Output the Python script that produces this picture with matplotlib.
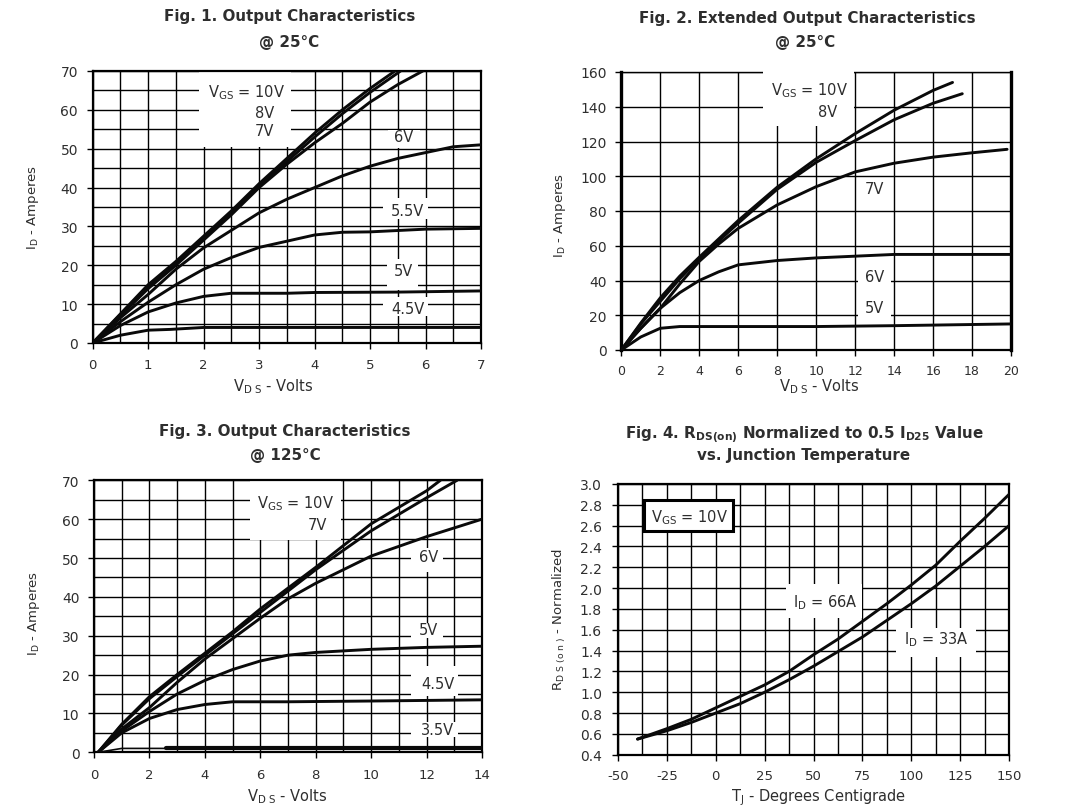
import matplotlib
matplotlib.use("Agg")
import matplotlib.pyplot as plt
from matplotlib.patches import Rectangle
import numpy as np

plt.rcParams['font.family'] = ['DejaVu Sans']
plt.rcParams['mathtext.fontset'] = 'dejavusans'
plt.rcParams['mathtext.default'] = 'rm'
plt.rcParams['axes.unicode_minus'] = False

# ---- Fig. 1 ----
f1_x10 = [0, .5, 1, 1.5, 2, 2.5, 3, 3.5, 4, 4.5, 5, 5.45]
f1_10v = [0, 7.5, 15, 21, 27.5, 34, 41, 47.5, 54, 60, 65.5, 70]
f1_x8 = [0, .5, 1, 1.5, 2, 2.5, 3, 3.5, 4, 4.5, 5, 5.55]
f1_8v = [0, 7.3, 14.5, 20.7, 27, 33.5, 40.3, 46.7, 53, 59, 64.5, 70]
f1_x7 = [0, .5, 1, 1.5, 2, 2.5, 3, 3.5, 4, 4.5, 5, 5.5, 5.95]
f1_7v = [0, 7, 14, 20, 26.5, 33, 40, 46, 51.5, 56.5, 62, 66.5, 70]
f1_x6 = [0, .5, 1, 1.5, 2, 2.5, 3, 3.5, 4, 4.5, 5, 5.5, 6, 6.5, 7]
f1_6v = [0, 6.5, 12.5, 19, 24.5, 29, 33.5, 37, 40, 43, 45.5, 47.5, 49, 50.5, 51]
f1_x55 = [0, .5, 1, 1.5, 2, 2.5, 3, 3.5, 4, 4.5, 5, 6, 7]
f1_55v = [0, 5.5, 10.5, 15, 19, 22, 24.6, 26.2, 27.8, 28.5, 28.6, 29.3, 29.5]
f1_x5 = [0, .5, 1, 1.5, 2, 2.5, 3.5, 4, 5.5, 7]
f1_5v = [0, 4.5, 8, 10.3, 12, 12.8, 12.8, 13, 13.1, 13.4]
f1_x45 = [0, .5, 1, 1.4, 2, 7]
f1_45v = [0, 2, 3.3, 3.5, 4, 4]

# ---- Fig. 2 ----
f2_x10 = [0, 1, 2, 3, 4, 6, 8, 10, 12, 14, 16, 17]
f2_10v = [0, 15.5, 30, 42.5, 53.4, 74.5, 93.7, 110, 124.5, 138, 149.4, 154]
f2_x8 = [0, 1, 2, 3, 4, 6, 8, 10, 12, 14, 16, 17.5]
f2_8v = [0, 15, 28, 41, 52.5, 73, 92.5, 108, 120.5, 132.5, 142, 147.5]
f2_x7 = [0, 1, 2, 3, 4, 5, 6, 8, 10, 12, 14, 16, 18, 19.8]
f2_7v = [0, 12.5, 24, 38, 51, 61, 70, 83.5, 94, 102.5, 107.5, 111, 113.5, 115.5]
f2_x6 = [0, 1, 2, 3, 4, 5, 6, 8, 10, 12, 14, 20]
f2_6v = [0, 12.5, 24, 33, 40, 45, 49, 51.5, 53, 54, 55, 55]
f2_x5 = [0, 1, 2, 3, 4, 10, 14, 20]
f2_5v = [0, 7.5, 12.5, 13.5, 13.5, 13.5, 14, 15]

# ---- Fig. 3 ----
f3_x10 = [.15, 1, 2, 3, 4, 5, 6, 8, 10, 12, 12.5]
f3_10v = [0, 7.2, 14.3, 20, 25.5, 31, 36.9, 47.6, 58.8, 67.3, 70]
f3_x7 = [.15, 1, 2, 3, 4, 5, 6, 8, 10, 12, 13.1]
f3_7v = [0, 7, 13.8, 19.5, 25, 30.5, 36, 47, 57, 65.5, 70]
f3_x6 = [.15, 1, 2, 3, 4, 6, 7, 8, 10, 12, 14]
f3_6v = [0, 6, 11.5, 18, 24, 34.5, 39.5, 43.5, 50.5, 55.5, 60]
f3_x5 = [.15, 1, 2, 3, 4, 5, 6, 7, 8, 10, 12, 14]
f3_5v = [0, 5.5, 10.5, 15, 18.5, 21.3, 23.5, 25, 25.7, 26.5, 27, 27.3]
f3_x45 = [.15, 1, 2, 3, 4, 5, 7, 10, 14]
f3_45v = [0, 5, 8.7, 11, 12.3, 13, 13, 13.2, 13.5]
f3_x35 = [.15, 1, 2.6, 14]
f3_35v = [0, 1, 1, 1]

# ---- Fig. 4 ----
f4_t = [-40, -25, -12.5, 0, 12.5, 25, 37.5, 50, 62.5, 75, 87.5, 100, 112.5, 125, 137.5, 150]
f4_66a = [.55, .65, .74, .85, .96, 1.07, 1.2, 1.36, 1.51, 1.68, 1.85, 2.03, 2.22, 2.45, 2.67, 2.9]
f4_33a = [.55, .63, .71, .80, .89, 1.0, 1.12, 1.25, 1.39, 1.53, 1.69, 1.85, 2.02, 2.21, 2.4, 2.6]

W, H = 1073, 812
INK = '#2e2e2e'
fig = plt.figure(figsize=(W / 100, H / 100), dpi=100, facecolor='white')


def panel(box, xlim, ylim, xgrid, ygrid, xticks, yticks, ylabels=None, xsize=9.5, ysize=10, xpad=6, ypad=6):
    l, t, r, b = box
    ax = fig.add_axes([l / W, 1 - b / H, (r - l) / W, (b - t) / H])
    ax.set_xlim(*xlim)
    ax.set_ylim(*ylim)
    ax.set_xticks(xgrid, minor=True)
    ax.set_yticks(ygrid, minor=True)
    ax.set_xticks(xticks)
    ax.set_yticks(yticks)
    if ylabels:
        ax.set_yticklabels(ylabels)
    ax.grid(True, which='both', color='black', lw=1.0, zorder=1)
    ax.set_axisbelow(True)
    ax.tick_params(which='minor', length=0)
    ax.tick_params(which='major', length=4.5, width=1.0, color='black', labelcolor=INK)
    ax.tick_params(axis='x', labelsize=xsize, pad=xpad)
    ax.tick_params(axis='y', labelsize=ysize, pad=ypad)
    for s in ax.spines.values():
        s.set_linewidth(1.6)
        s.set_zorder(2.5)
    return ax


def blank(ax, x0, x1, y0, y1, z=1.5, clip=True):
    ax.add_patch(Rectangle((x0, y0), x1 - x0, y1 - y0, fc='white', ec='none', zorder=z, clip_on=clip))


def curve(ax, x, y, lw=2.1):
    ax.plot(x, y, color='#0a0a0a', lw=lw, zorder=3, solid_capstyle='round', solid_joinstyle='round')


def note(ax, x, y, s, size=10.5):
    ax.text(x, y, s, fontsize=size, color=INK, ha='center', va='center', zorder=4)


def ftext(px, py, s, size=9, weight='normal', rot=0):
    fig.text(px / W, 1 - py / H, s, fontsize=size, fontweight=weight, color=INK,
             ha='center', va='center', rotation=rot)


VGS = r'V$_{\mathrm{GS}}$ = 10V'

# Fig. 1
ax1 = panel((92.7, 72, 481, 344), (0, 7), (0, 70), np.arange(0, 7.01, .5), np.arange(0, 70.1, 5),
            np.arange(0, 8), np.arange(0, 71, 10))
blank(ax1, 1.92, 3.57, 50.4, 69.7)
blank(ax1, 5.33, 5.90, 50.3, 54.8)
blank(ax1, 5.24, 6.05, 31.9, 37.2)
blank(ax1, 5.30, 5.87, 13.7, 21.6)
blank(ax1, 5.24, 6.05, 7.0, 11.75)
for x, y in [(f1_x10, f1_10v), (f1_x8, f1_8v), (f1_x7, f1_7v), (f1_x6, f1_6v),
             (f1_x55, f1_55v), (f1_x5, f1_5v), (f1_x45, f1_45v)]:
    curve(ax1, x, y)
for x, y, s in [(2.78, 64.7, VGS), (3.1, 59.2, '8V'), (3.1, 54.6, '7V'), (5.6, 53.2, '6V'),
                (5.68, 34, '5.5V'), (5.6, 18.6, '5V'), (5.68, 8.9, '4.5V')]:
    note(ax1, x, y, s)

# Fig. 2
ax2 = panel((621.3, 73, 1011, 351), (0, 20), (0, 160), np.arange(0, 20.1, 2), np.arange(0, 161, 20),
            np.arange(0, 21, 2), np.arange(0, 161, 20), xsize=9, xpad=5.5)
ax2.spines['left'].set_linewidth(2.4)
ax2.spines['right'].set_linewidth(2.4)
ax2.spines['top'].set_linewidth(1.0)
blank(ax2, 7.25, 11.95, 128.9, 162, z=2.6, clip=False)
blank(ax2, 12.16, 13.82, 16.9, 46.7)
for x, y in [(f2_x10, f2_10v), (f2_x8, f2_8v), (f2_x7, f2_7v), (f2_x6, f2_6v), (f2_x5, f2_5v)]:
    curve(ax2, x, y)
for x, y, s in [(9.65, 150, VGS), (10.6, 137.5, '8V'), (13, 92.8, '7V'), (13, 42.3, '6V'), (13, 24.6, '5V')]:
    note(ax2, x, y, s)

# Fig. 3
ax3 = panel((94, 481.3, 482, 753.3), (0, 14), (0, 70), np.arange(0, 14.1, 1), np.arange(0, 70.1, 5),
            np.arange(0, 15, 2), np.arange(0, 71, 10), xpad=7)
blank(ax3, 5.62, 8.93, 54.7, 69.7)
blank(ax3, 11.45, 12.6, 46.5, 52.7)
blank(ax3, 11.45, 12.6, 29.4, 33.4)
blank(ax3, 11.45, 13.13, 14.4, 22.3)
blank(ax3, 11.45, 13.13, 3.9, 7.7)
for x, y in [(f3_x10, f3_10v), (f3_x7, f3_7v), (f3_x6, f3_6v), (f3_x5, f3_5v), (f3_x45, f3_45v)]:
    curve(ax3, x, y)
curve(ax3, f3_x35[:3], f3_35v[:3], lw=1.2)
curve(ax3, f3_x35[2:], f3_35v[2:], lw=3.0)
for x, y, s in [(7.28, 64.3, VGS), (8.06, 58.5, '7V'), (12.08, 50.3, '6V'), (12.08, 31.6, '5V'),
                (12.4, 17.8, '4.5V'), (12.4, 5.8, '3.5V')]:
    note(ax3, x, y, s)

# Fig. 4
ax4 = panel((618, 485, 1009, 755.7), (-50, 150), (.4, 3.0), np.arange(-50, 150.1, 12.5), np.arange(.4, 3.01, .2),
            np.arange(-50, 151, 25), np.arange(.4, 3.01, .2),
            ylabels=[f'{v:.1f}' for v in np.arange(.4, 3.01, .2)], ypad=7)
ax4.add_patch(Rectangle((-36.5, 2.545), 45.1, .305, fc='white', ec='black', lw=2.2, zorder=2.2))
blank(ax4, 35.9, 75, 1.71, 2.04)
blank(ax4, 92.4, 133, 1.335, 1.62)
curve(ax4, f4_t, f4_66a)
curve(ax4, f4_t, f4_33a)
for x, y, s in [(-13.2, 2.69, VGS), (56.3, 1.87, r'I$_{\mathrm{D}}$ = 66A'), (112.9, 1.51, r'I$_{\mathrm{D}}$ = 33A')]:
    note(ax4, x, y, s)

# Titles
TS = 10.9
ftext(290, 17, 'Fig. 1. Output Characteristics', TS, 'bold')
ftext(289, 43, '@ 25°C', TS, 'bold')
ftext(807, 18, 'Fig. 2. Extended Output Characteristics', TS, 'bold')
ftext(805, 43, '@ 25°C', TS, 'bold')
ftext(285, 432, 'Fig. 3. Output Characteristics', TS, 'bold')
ftext(285, 456, '@ 125°C', TS, 'bold')
ftext(804, 435, r'Fig. 4. R$_{\mathbf{DS(on)}}$ Normalized to 0.5 I$_{\mathbf{D25}}$ Value', TS, 'bold')
ftext(804, 456, 'vs. Junction Temperature', TS, 'bold')

# Axis labels
VDS = r'V$_{\mathrm{D\ S}}$ - Volts'
ftext(273, 387, VDS, 10.5)
ftext(819, 387, VDS, 10.5)
ftext(287, 797, VDS, 10.5)
ftext(819, 798, r'T$_{\mathrm{J}}$ - Degrees Centigrade', 10.5)
IDA = r'I$_{\mathrm{D}}$ - Amperes'
ftext(33, 207, IDA, 9.5, rot=90)
ftext(560, 215, IDA, 9.5, rot=90)
ftext(34, 613, IDA, 9.5, rot=90)
ftext(559, 620, r'R$_{\mathrm{D\ S\ (o\ n\ )}}$ - Normalized', 9.5, rot=90)

fig.savefig('out.png', dpi=100, facecolor='white')
